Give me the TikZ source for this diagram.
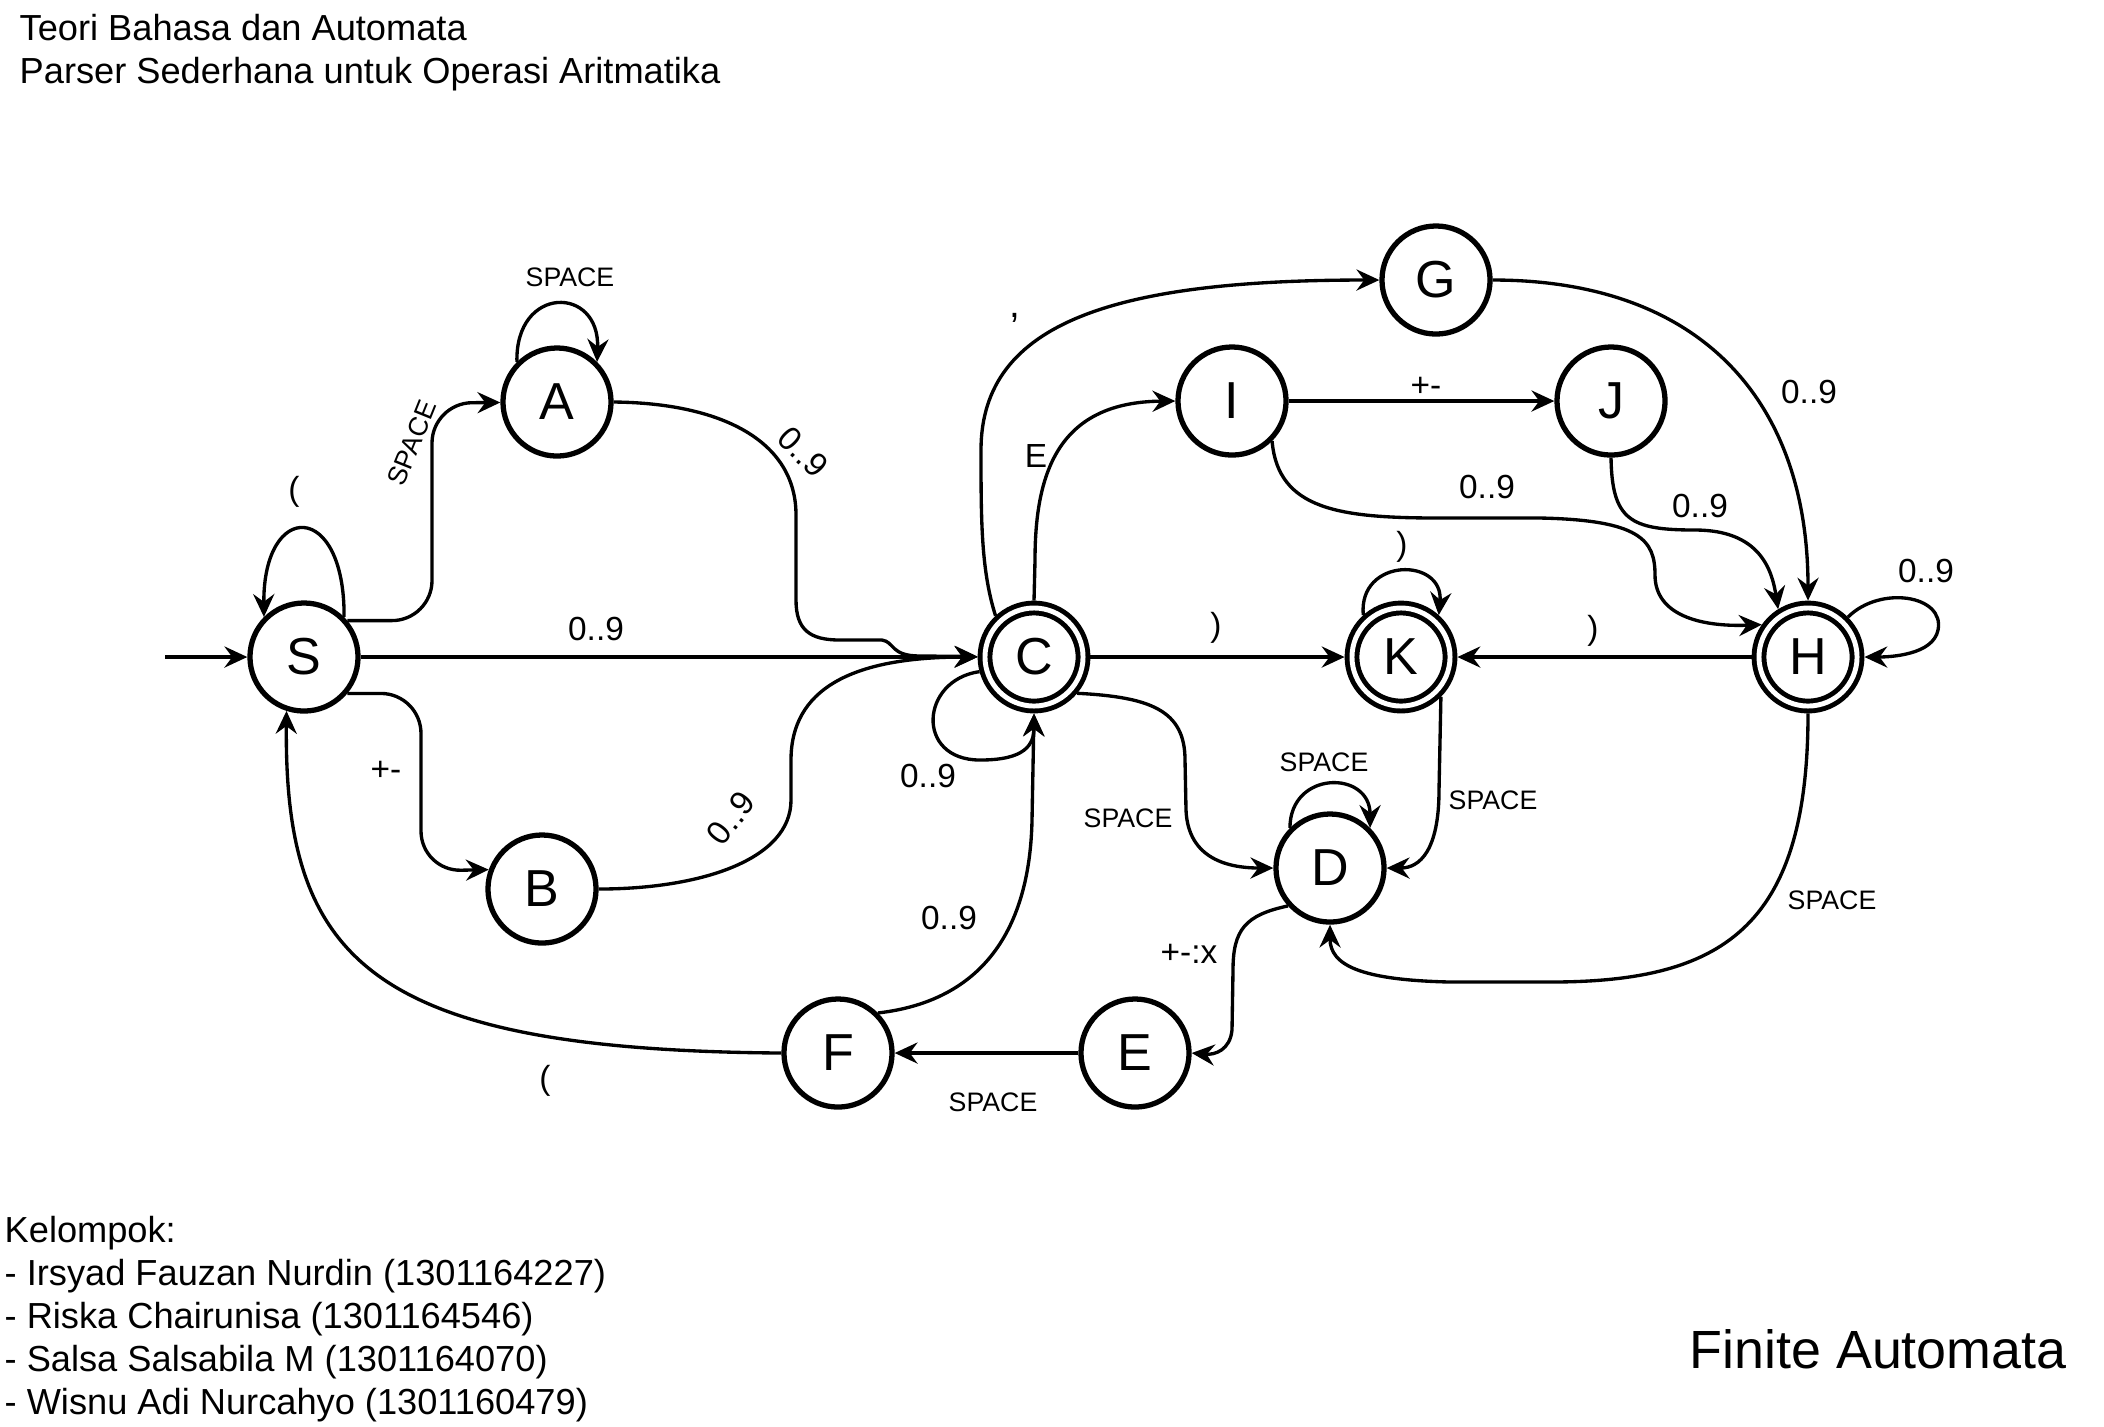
\documentclass[tikz,border=0pt]{standalone}
\usepackage{fontspec}
\setmainfont{Liberation Sans}
\usetikzlibrary{arrows.meta}

\begin{document}
\begin{tikzpicture}[x=0.01cm,y=-0.01cm,
  st/.style={circle,draw,line width=1.5pt,minimum size=1.08cm,inner sep=0pt,font=\fontsize{14.8pt}{16pt}\selectfont},
  acc/.style={st,line width=1.4pt,double,double distance=1.4pt,minimum size=0.98cm,outer sep=2.1pt},
  trans/.style={line width=0.95pt,-{Stealth[length=6.5pt,width=6pt,inset=2.2pt]}},
  lab/.style={inner sep=0pt,font=\fontsize{9.5pt}{11pt}\selectfont},
  sp/.style={inner sep=0pt,font=\fontsize{7.6pt}{9pt}\selectfont},
  txt/.style={inner sep=0pt,anchor=base west,font=\fontsize{10.3pt}{12pt}\selectfont}]

\useasboundingbox (0,0) rectangle (2104,1426);

\node[txt] (title1) at (19,40) {Teori Bahasa dan Automata};
\node[txt] (title2) at (19,83) {Parser Sederhana untuk Operasi Aritmatika};

\node[st] (S) at (304,657) {S};
\node[st] (A) at (557,402) {A};
\node[st] (B) at (542,889) {B};
\node[acc] (C) at (1034,657) {C};
\node[st] (G) at (1436,280) {G};
\node[st] (I) at (1232,401) {I};
\node[st] (J) at (1611,401) {J};
\node[acc] (K) at (1401,657) {K};
\node[acc] (H) at (1808,657) {H};
\node[st] (D) at (1330,868) {D};
\node[st] (E) at (1135,1053) {E};
\node[st] (F) at (838,1053) {F};

\coordinate (init) at (165,657);
\draw[trans] (init) -- (S);

\draw[trans] (S.45) .. controls (345,500) and (263,500) .. (S.135);
\node[lab] (lS) at (294,492) {(};

\draw[trans,rounded corners=0.4cm] (S.40) -| (432,403) -- (A);
\node[sp,rotate=68] (lSA) at (412,443) {SPACE};

\draw[trans] (A.135) .. controls (515,285) and (600,285) .. (A.45);
\node[sp] (lA) at (570,277) {SPACE};

\draw[trans] (A.east) .. controls (720,403) and (796,440) .. (796,515) -- (796,600)
  .. controls (796,630) and (810,640) .. (840,640) -- (882,640)
  .. controls (895,642) and (890,656) .. (920,656) -- (C);
\node[lab,rotate=-45] (lAC) at (803,452) {0..9};

\draw[trans] (S) -- (C);
\node[lab] (lSC) at (596,629) {0..9};

\draw[trans,rounded corners=0.4cm] (S.-40) -| (421,871) -- (B.160);
\node[lab] (lSB) at (386,771) {+-};

\draw[trans] (B.east) .. controls (700,889) and (791,860) .. (791,800) -- (791,760)
  .. controls (791,690) and (850,657) .. (C.west);
\node[lab,rotate=52] (lBC) at (731,818) {0..9};

\draw[trans] (C.195) .. controls (920,680) and (915,760) .. (980,760)
  .. controls (1025,760) and (1034,745) .. (C.south);
\node[lab] (lC) at (928,776) {0..9};

\draw[trans] (C.133) .. controls (981,570) and (981,520) .. (981,450)
  .. controls (981,320) and (1120,280) .. (G.west);
\node[lab,font=\fontsize{11pt}{12pt}\selectfont] (lCG) at (1015,318) {,};

\draw[trans] (C.north) -- (1035,560) .. controls (1035,470) and (1060,402) .. (I.west);
\node[lab] (lCI) at (1036,456) {E};

\draw[trans] (I) -- (J);
\node[lab] (lIJ) at (1426,387) {+-};

\draw[trans] (I.-45) .. controls (1278,510) and (1340,518) .. (1440,518) -- (1540,518)
  .. controls (1640,520) and (1655,540) .. (1655,575)
  .. controls (1655,615) and (1700,627) .. (H.145);
\node[lab] (lIH) at (1487,487) {0..9};

\draw[trans] (J.south) .. controls (1612,520) and (1630,530) .. (1695,530)
  .. controls (1760,530) and (1772,570) .. (H.122);
\node[lab] (lJH) at (1700,506) {0..9};

\draw[trans] (G.east) .. controls (1700,280) and (1808,400) .. (H.north);
\node[lab] (lGH) at (1809,392) {0..9};

\draw[trans] (C) -- (K);
\node[lab] (lCK) at (1216,628) {)};

\draw[trans] (H) -- (K);
\node[lab] (lHK) at (1593,631) {)};

\draw[trans] (K.132) .. controls (1358,557) and (1444,557) .. (K.48);
\node[lab] (lK) at (1402,547) {)};

\draw[trans] (H.45) .. controls (1880,585) and (1945,595) .. (1938,630)
  .. controls (1933,655) and (1890,657) .. (H.east);
\node[lab] (lH) at (1926,571) {0..9};

\draw[trans] (K.-45) -- (1439,790) .. controls (1439,850) and (1420,868) .. (D.east);
\node[sp] (lKD) at (1493,800) {SPACE};

\draw[trans] (C.-40) .. controls (1150,697) and (1185,710) .. (1185,760) -- (1186,810)
  .. controls (1188,860) and (1230,868) .. (D.west);
\node[sp] (lCD) at (1128,818) {SPACE};

\draw[trans] (D.135) .. controls (1290,770) and (1370,770) .. (D.45);
\node[sp] (lD) at (1324,762) {SPACE};

\draw[trans] (H.south) .. controls (1808,930) and (1720,982) .. (1550,982) -- (1450,982)
  .. controls (1360,980) and (1330,965) .. (D.south);
\node[sp] (lHD) at (1832,900) {SPACE};

\draw[trans] (D.-138) .. controls (1245,915) and (1233,930) .. (1233,970) -- (1232,1030)
  .. controls (1230,1050) and (1215,1055) .. (E.east);
\node[lab] (lDE) at (1189,954) {+-:x};

\draw[trans] (E) -- (F);
\node[sp] (lEF) at (993,1102) {SPACE};

\draw[trans] (F.45) .. controls (990,1000) and (1030,920) .. (1032,820) -- (C.south);
\node[lab] (lFC) at (949,918) {0..9};

\draw[trans] (F.west) .. controls (370,1050) and (284,960) .. (S.-108);
\node[lab] (lFS) at (545,1081) {(};

\node[txt] (grp) at (4,1242) {Kelompok:};
\node[txt] (m1) at (4,1285) {- Irsyad Fauzan Nurdin (1301164227)};
\node[txt] (m2) at (4,1328) {- Riska Chairunisa (1301164546)};
\node[txt] (m3) at (4,1371) {- Salsa Salsabila M (1301164070)};
\node[txt] (m4) at (4,1414) {- Wisnu Adi Nurcahyo (1301160479)};

\node[txt,font=\fontsize{15.3pt}{17pt}\selectfont] (fa) at (1689,1368) {Finite Automata};

\end{tikzpicture}
\end{document}
